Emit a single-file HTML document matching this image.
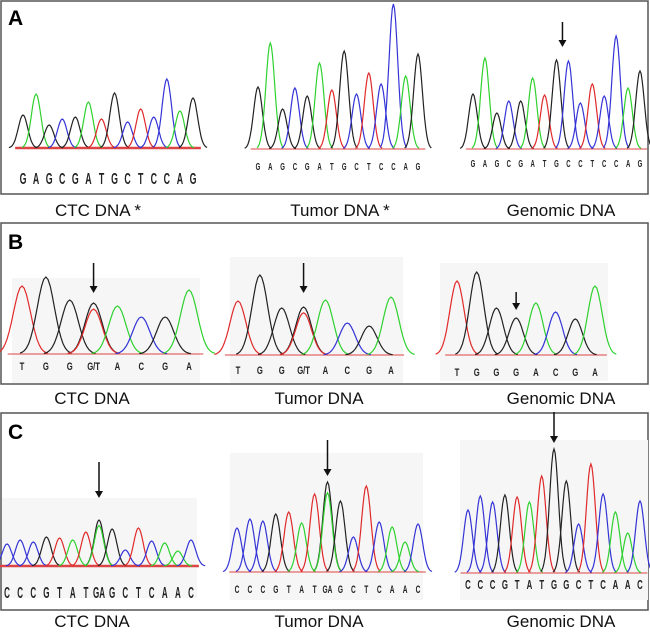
<!DOCTYPE html>
<html><head><meta charset="utf-8">
<style>
body{margin:0;background:#fff;width:650px;height:632px;overflow:hidden;font-family:"Liberation Sans",Arial,sans-serif;}
svg{display:block}
</style></head>
<body>
<svg id="fig" width="650" height="632" viewBox="0 0 650 632" xmlns="http://www.w3.org/2000/svg">
<rect x="1" y="1" width="647" height="193" fill="#fff" stroke="#555" stroke-width="1.5"/>
<rect x="1" y="223" width="647" height="161" fill="#fff" stroke="#555" stroke-width="1.5"/>
<rect x="1" y="413" width="647" height="197" fill="#fff" stroke="#555" stroke-width="1.5"/>
<rect x="12" y="278" width="188" height="105" fill="#f6f6f6"/>
<rect x="230" y="257" width="173" height="126" fill="#f6f6f6"/>
<rect x="440" y="263" width="168" height="118" fill="#f6f6f6"/>
<rect x="2" y="498" width="195" height="100" fill="#f6f6f6"/>
<rect x="230" y="453" width="193" height="147" fill="#f6f6f6"/>
<rect x="460" y="440" width="188" height="160" fill="#f6f6f6"/>
<text x="8" y="25" font-size="21" font-weight="bold">A</text>
<text x="8" y="249" font-size="21" font-weight="bold">B</text>
<text x="8" y="439" font-size="21" font-weight="bold">C</text>
<g font-size="17" text-anchor="middle" fill="#111">
<text x="98" y="216">CTC DNA *</text>
<text x="340" y="216">Tumor DNA *</text>
<text x="561" y="216">Genomic DNA</text>
<text x="92" y="404">CTC DNA</text>
<text x="319" y="404">Tumor DNA</text>
<text x="561" y="404">Genomic DNA</text>
<text x="92" y="627">CTC DNA</text>
<text x="319" y="627">Tumor DNA</text>
<text x="561" y="627">Genomic DNA</text>
</g>
<g id="traces"></g>
</svg>
<script>
const a1Bases=["G","A","G","C","G","A","T","G","C","T","C","C","A","G"];
const a1Amps=[33,54,23,29,31,46,29,55,26,39,31,69,37,50];
const a2Bases=["G","A","G","C","G","A","T","G","C","T","C","C","A","G"];
const a2Amps=[62,106,40,61,53,86,59,98,55,76,65,145,73,95];
const a3Bases=["G","A","G","C","G","A","T","G","C","C","T","C","C","A","G"];
const a3Amps=[55,91,36,48,48,71,54,89,88,46,65,53,113,61,78];
const b1Bases=["T","G","G","G/T","A","C","G","A"];
const b1Amps=[68,77,54,51,48,37,37,64];
const b2Bases=["T","G","G","G/T","A","C","G","A"];
const b2Amps=[54,80,47,48,55,32,29,58];
const b3Bases=["T","G","G","G","A","C","G","A"];
const b3Amps=[74,83,47,37,52,43,36,69];
const c1Bases=["C","C","C","G","T","A","T","GA","G","C","T","C","A","A","C"];
const c1Amps=[22,26,24,29,28,26,34,46,37,16,38,25,23,15,26];
const c2Bases=["C","C","C","G","T","A","T","GA","G","C","T","C","A","A","C"];
const c2Amps=[44,53,51,58,60,49,78,90,71,35,86,50,45,30,48];
const c3Bases=["C","C","C","G","T","A","T","G","G","C","T","C","A","A","C"];
const c3Amps=[63,77,71,78,76,71,97,124,92,49,109,79,61,40,72];
const arrowIndex={a3:7.5,b1:3,b2:3,b3:3,c1:7,c2:7,c3:7};

const COL={G:"#222",A:"#2fd12f",C:"#3434d6",T:"#e02a2a"};
const NS="http://www.w3.org/2000/svg";
const root=document.getElementById("traces");
const traces=[
 {id:"a1",bases:a1Bases,amps:a1Amps,x0:23,x1:193,base:148,ly:184,fs:16,sx:0.55,bw:2.5,arrow:null},
 {id:"a2",bases:a2Bases,amps:a2Amps,x0:258,x1:418,base:149,ly:170,fs:10,sx:0.6,bw:1,arrow:null},
 {id:"a3",bases:a3Bases,amps:a3Amps,x0:473,x1:640,base:149,ly:167,fs:10,sx:0.6,bw:1,arrow:[22,47]},
 {id:"b1",bases:b1Bases,amps:b1Amps,x0:22,x1:189,base:354,ly:370,fs:11,sx:0.7,bw:1,arrow:[263,293]},
 {id:"b2",bases:b2Bases,amps:b2Amps,x0:238,x1:391,base:355,ly:374,fs:11,sx:0.7,bw:1,arrow:[263,293]},
 {id:"b3",bases:b3Bases,amps:b3Amps,x0:457,x1:595,base:355,ly:376,fs:11,sx:0.7,bw:1,arrow:[292,310]},
 {id:"c1",bases:c1Bases,amps:c1Amps,x0:7,x1:191,base:566,ly:598,fs:16,sx:0.5,bw:2.5,arrow:[462,498]},
 {id:"c2",bases:c2Bases,amps:c2Amps,x0:237,x1:418,base:572,ly:593,fs:11,sx:0.6,bw:1,arrow:[440,476]},
 {id:"c3",bases:c3Bases,amps:c3Amps,x0:468,x1:640,base:573,ly:589,fs:13,sx:0.6,bw:1,arrow:[412,443]}
];
function xScale(t,i){return t.x0+i*(t.x1-t.x0)/(t.bases.length-1);}
function yScale(t,v){return t.base-v;}
function peakPath(t,cx,amp,sig){
  let d="";
  for(let k=-3;k<=3.001;k+=0.25){
    const x=cx+k*sig, y=yScale(t,amp*Math.exp(-k*k/2));
    d+=(d?"L":"M")+x.toFixed(1)+","+y.toFixed(1);
  }
  return d;
}
traces.forEach(t=>{
  const g=document.createElementNS(NS,"g");
  
  
  root.appendChild(g);
  const sp=(t.x1-t.x0)/(t.bases.length-1), sig=sp*0.36;
  const bl=document.createElementNS(NS,"line");
  bl.setAttribute("x1",t.x0-sp*0.6);bl.setAttribute("x2",t.x1+sp*0.6);
  bl.setAttribute("y1",t.base);bl.setAttribute("y2",t.base);
  bl.setAttribute("stroke","#d44");bl.setAttribute("stroke-width",t.bw);
  
  
  g.appendChild(bl);
  t.bases.forEach((b,i)=>{
    const cx=xScale(t,i);
    const letters=b.replace("/","").split("");
    letters.forEach((L,j)=>{
      const p=document.createElementNS(NS,"path");
      p.setAttribute("d",peakPath(t,cx,t.amps[i]*(j?0.88:1),sig));
      p.setAttribute("fill","none");p.setAttribute("stroke",COL[L]);p.setAttribute("stroke-width","1.2");
      
      
      g.appendChild(p);
    });
    const tx=document.createElementNS(NS,"text");
    tx.setAttribute("transform","translate("+cx.toFixed(1)+","+t.ly+") scale("+t.sx+",1)");
    tx.setAttribute("font-size",t.fs);tx.setAttribute("font-weight","bold");
    tx.setAttribute("text-anchor","middle");tx.setAttribute("fill","#222");
    tx.textContent=b;
    
    
    g.appendChild(tx);
  });
  if(t.arrow){
    const ax=xScale(t,arrowIndex[t.id]);
    const ln=document.createElementNS(NS,"line");
    ln.setAttribute("x1",ax);ln.setAttribute("x2",ax);ln.setAttribute("y1",t.arrow[0]);ln.setAttribute("y2",t.arrow[1]-4);
    ln.setAttribute("stroke","#111");ln.setAttribute("stroke-width","1.5");
    
    
    g.appendChild(ln);
    const hd=document.createElementNS(NS,"path");
    hd.setAttribute("d","M"+(ax-4)+","+(t.arrow[1]-7)+"L"+(ax+4)+","+(t.arrow[1]-7)+"L"+ax+","+t.arrow[1]+"Z");
    hd.setAttribute("fill","#111");
    
    
    g.appendChild(hd);
  }
});
</script>
</body></html>
